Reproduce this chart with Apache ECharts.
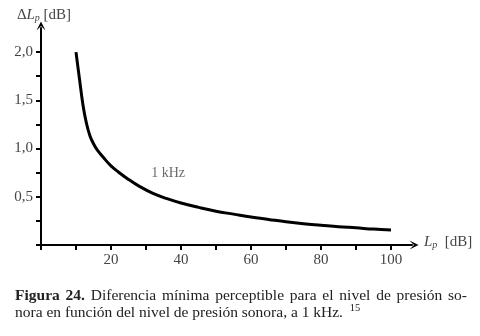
<!DOCTYPE html>
<html><head><meta charset="utf-8">
<script src="https://cdn.jsdelivr.net/npm/echarts@6/dist/echarts.min.js"></script>
<style>html,body{margin:0;padding:0;background:#fff}#c{width:480px;height:336px}</style>
</head><body><div id="c"></div>
<script>
const levels = [10, 11, 12, 13, 14, 15, 16, 18, 20, 22, 25, 28, 32, 36, 40, 45, 50, 55, 60, 65, 70, 75, 80, 85, 90, 95, 100];
const deltas = [2.0, 1.72, 1.45, 1.26, 1.13, 1.05, 0.99, 0.90, 0.82, 0.76, 0.68, 0.61, 0.535, 0.48, 0.435, 0.39, 0.35, 0.32, 0.29, 0.265, 0.24, 0.22, 0.205, 0.19, 0.178, 0.165, 0.155];
const xTickValues = [0, 10, 20, 30, 40, 50, 60, 70, 80, 90, 100];
const xLabelValues = [20, 40, 60, 80, 100];
const yTickValues = [0, 0.25, 0.5, 0.75, 1.0, 1.25, 1.5, 1.75, 2.0];
const yLabelValues = [0.5, 1.0, 1.5, 2.0];
const curveLabel = '1 kHz';
const curveLabelAt = [36.3, 0.745];
const captionBold = ['Figura', '24.'];
const captionLine1 = 'Diferencia mínima perceptible para el nivel de presión so-';
const captionLine2 = 'nora en función del nivel de presión sonora, a 1 kHz.';
const captionRef = '15';

const serif = 'Liberation Serif';
const capSize = 15.5;
const capColor = '#222';

// justified first caption line
const ctx = document.createElement('canvas').getContext('2d');
const words1 = captionBold.map(t => ({t, b: true})).concat(captionLine1.split(' ').map(t => ({t, b: false})));
words1.forEach(w => { ctx.font = (w.b ? 'bold ' : '') + capSize + 'px "' + serif + '"'; w.w = ctx.measureText(w.t).width; });
const lineStart = 15, lineEnd = 467;
const total = words1.reduce((s, w) => s + w.w, 0);
const gap = (lineEnd - lineStart - total) / (words1.length - 1);
let cx = lineStart;
const capGraphics = words1.map(w => {
  const g = {type: 'text', x: cx, y: 295.5, style: {text: w.t, fontFamily: serif, fontSize: capSize,
    fontWeight: w.b ? 'bold' : 'normal', fill: capColor, verticalAlign: 'middle', align: 'left'}};
  cx += w.w + gap;
  return g;
});
capGraphics.push({type: 'text', x: lineStart, y: 313, style: {
  text: '{n|' + captionLine2 + '}  {sup|' + captionRef + '}', verticalAlign: 'middle',
  rich: {n: {fontFamily: serif, fontSize: capSize, fill: capColor},
         sup: {fontFamily: serif, fontSize: 10.5, fill: capColor, verticalAlign: 'top', padding: [0,0,10,0]}}}});

const chart = echarts.init(document.getElementById('c'));
const arrow = 'path://M0,10 L5,0 L10,10 L5,5 Z';
chart.setOption({
  animation: false,
  grid: {left: 41, right: 68, top: 28, bottom: 91},
  xAxis: {
    type: 'value', min: 0, max: 106,
    axisLine: {show: true, lineStyle: {color: '#000', width: 2}, symbol: ['none', arrow], symbolSize: [9, 9], symbolOffset: [0, 2]},
    axisTick: {show: true, customValues: xTickValues, length: 5, lineStyle: {color: '#000', width: 2}},
    axisLabel: {customValues: xLabelValues, margin: 8, fontFamily: serif, fontSize: 15, color: '#444'},
    splitLine: {show: false},
    name: '{i|L}{s|p}  [dB]', nameLocation: 'end', nameGap: 12,
    nameTextStyle: {fontFamily: serif, fontSize: 15, color: '#444', verticalAlign: 'middle', padding: [0, 0, 5, 0],
      rich: {i: {fontFamily: serif, fontStyle: 'italic', fontSize: 15, color: '#444'},
             s: {fontFamily: serif, fontStyle: 'italic', fontSize: 10, color: '#444', padding: [6,0,0,0]}}}
  },
  yAxis: {
    type: 'value', min: 0, max: 2.25,
    axisLine: {show: true, lineStyle: {color: '#000', width: 2}, symbol: ['none', arrow], symbolSize: [9, 9], symbolOffset: [0, 2]},
    axisTick: {show: true, customValues: yTickValues, length: 5, lineStyle: {color: '#000', width: 2}},
    axisLabel: {customValues: yLabelValues, margin: 8, fontFamily: serif, fontSize: 15, color: '#444',
      formatter: v => v.toFixed(1).replace('.', ',')},
    splitLine: {show: false},
    name: 'Δ{i|L}{s|p} [dB]', nameLocation: 'end', nameGap: 5,
    nameTextStyle: {fontFamily: serif, fontSize: 15, color: '#444', align: 'center', padding: [0, 0, 0, 6],
      rich: {i: {fontFamily: serif, fontStyle: 'italic', fontSize: 15, color: '#444'},
             s: {fontFamily: serif, fontStyle: 'italic', fontSize: 10, color: '#444', padding: [6,0,0,0]}}}
  },
  series: [{
    type: 'line', smooth: 0.4, showSymbol: false,
    data: levels.map((l, i) => [l, deltas[i]]),
    lineStyle: {color: '#000', width: 3}
  }, {
    type: 'scatter', symbolSize: 1, itemStyle: {color: 'rgba(0,0,0,0)'},
    data: [curveLabelAt],
    label: {show: true, position: 'inside', formatter: curveLabel, fontFamily: serif, fontSize: 14, color: '#444'}
  }],
  graphic: capGraphics
});
</script></body></html>
